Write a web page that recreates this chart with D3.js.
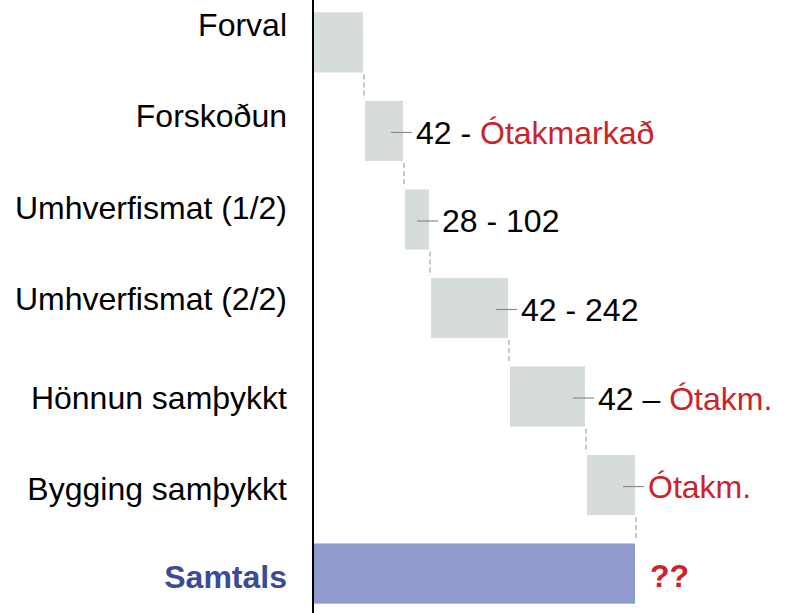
<!DOCTYPE html>
<html>
<head>
<meta charset="utf-8">
<script src="https://cdn.jsdelivr.net/npm/d3@7"></script>
<style>
  html, body { margin: 0; padding: 0; background: #fff; }
  svg { display: block; font-family: "Liberation Sans", Arial, sans-serif; }
</style>
</head>
<body>
<svg id="chart" width="787" height="613"></svg>
<script>
// ---- data ----
const categories = ["Forval", "Forskoðun", "Umhverfismat (1/2)", "Umhverfismat (2/2)", "Hönnun samþykkt", "Bygging samþykkt", "Samtals"];
const starts = [0, 52, 92, 118, 197, 274, 0];
const ends   = [50, 90, 116, 195, 272, 322, 322];
const lowLabels  = [null, "42", "28", "42", "42", null, null];
const separators = [null, " - ", " - ", " - ", " – ", null, null];
const highLabels = [null, "Ótakmarkað", "102", "242", "Ótakm.", "Ótakm.", "??"];
const isTotal = [false, false, false, false, false, false, true];

// ---- layout ----
const W = 787, H = 613;
const axisX = 313;
const labelDy = [-6.5, -4, 0, 1.5, 12.5, 14.5, 14.5];
const fontSize = 32;
const grey = "#d6dcdc", blue = "#8f9bcd", red = "#cc2229", navy = "#3b4a9a";

const svg = d3.select("#chart");
const x = d3.scaleLinear().domain([0, 322]).range([axisX, 635]);
const y = d3.scaleBand().domain(categories).range([-16, 632]).padding(0.32);

const rows = categories.map((c, i) => ({
  c, i, s: starts[i], e: ends[i], lo: lowLabels[i], sep: separators[i], hi: highLabels[i], total: isTotal[i]
}));

// bars
svg.append("g").selectAll("rect").data(rows).join("rect")
  .attr("x", d => x(d.s))
  .attr("y", d => y(d.c))
  .attr("width", d => x(d.e) - x(d.s))
  .attr("height", y.bandwidth())
  .attr("fill", d => d.total ? blue : grey);

// connectors (dashed)
svg.append("g").selectAll("line").data(rows.slice(0, -1)).join("line")
  .attr("x1", d => x(d.e) + 1).attr("x2", d => x(d.e) + 1)
  .attr("y1", d => y(d.c) + y.bandwidth() + 2)
  .attr("y2", d => y(categories[d.i + 1]) - 2)
  .attr("stroke", "#8f8f8f").attr("stroke-width", 1)
  .attr("stroke-dasharray", "5,3");

// leader lines + value labels
const labelled = rows.filter(d => d.hi !== null);
svg.append("g").selectAll("line").data(labelled.filter(d => !d.total)).join("line")
  .attr("x1", d => x(d.e) - 12).attr("x2", d => x(d.e) + 9)
  .attr("y1", d => y(d.c) + y.bandwidth() / 2 + 1.5)
  .attr("y2", d => y(d.c) + y.bandwidth() / 2 + 1.5)
  .attr("stroke", "#8a8a8a").attr("stroke-width", 1.2);

const vt = svg.append("g").selectAll("text").data(labelled).join("text")
  .attr("x", d => x(d.e) + (d.total ? 15 : 13))
  .attr("y", d => y(d.c) + y.bandwidth() / 2 + 13)
  .attr("font-size", fontSize);
vt.each(function(d) {
  const t = d3.select(this);
  if (d.lo !== null) {
    t.append("tspan").attr("fill", "#000").text(d.lo + d.sep);
  }
  const numeric = /^[0-9]+$/.test(d.hi);
  t.append("tspan")
    .attr("fill", numeric ? "#000" : red)
    .attr("font-weight", d.total ? "bold" : null)
    .text(d.hi);
});

// category labels
svg.append("g").selectAll("text").data(rows).join("text")
  .attr("x", 287)
  .attr("y", d => y(d.c) + y.bandwidth() / 2 + labelDy[d.i])
  .attr("text-anchor", "end")
  .attr("font-size", fontSize)
  .attr("font-weight", d => d.total ? "bold" : null)
  .attr("fill", d => d.total ? navy : "#000")
  .text(d => d.c);

// vertical axis line
svg.append("line")
  .attr("x1", axisX).attr("x2", axisX)
  .attr("y1", 0).attr("y2", H)
  .attr("stroke", "#000").attr("stroke-width", 2);
</script>
</body>
</html>
